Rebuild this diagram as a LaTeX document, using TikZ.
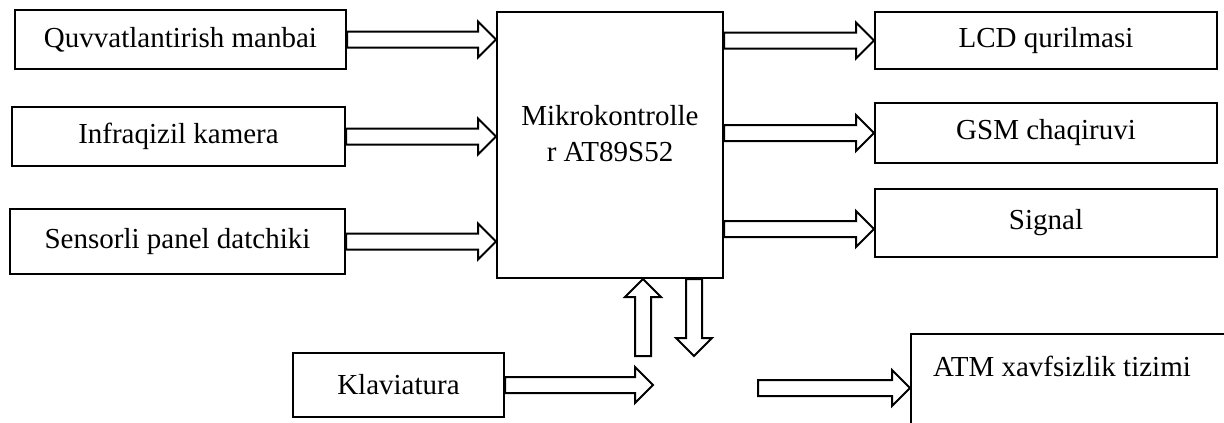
\documentclass[tikz,border=0pt]{standalone}
\usepackage{fontspec}
\setmainfont{Liberation Serif}
\usetikzlibrary{calc}

\begin{document}
\begin{tikzpicture}[
        x=1pt, y=-1pt,
        every node/.style={font=\fontsize{29}{36}\selectfont},
        block/.style={draw, line width=2pt, inner sep=0pt, align=center},
        blockArrow/.style={draw, line width=2pt, fill=white, line join=miter,
            to path={let \p1=(\tikztostart), \p2=(\tikztotarget),
                \n1={atan2(\y2-\y1,\x2-\x1)}, \n2={veclen(\x2-\x1,\y2-\y1)} in
                ([shift={(\p1)},rotate=\n1]0pt,8pt)
                -- ([shift={(\p1)},rotate=\n1]\n2-18pt,8pt)
                -- ([shift={(\p1)},rotate=\n1]\n2-18pt,18pt)
                -- ([shift={(\p1)},rotate=\n1]\n2,0pt)
                -- ([shift={(\p1)},rotate=\n1]\n2-18pt,-18pt)
                -- ([shift={(\p1)},rotate=\n1]\n2-18pt,-8pt)
                -- ([shift={(\p1)},rotate=\n1]0pt,-8pt) -- cycle}}
    ]
        \useasboundingbox (0,0) rectangle (1224,423);
        \clip (0,0) rectangle (1224,423);

        % Inputs on the left
        \node[block, minimum width=331, minimum height=59] (q) at (180.5,39.5) {Quvvatlantirish manbai};
        \node[block, minimum width=333, minimum height=59] (ik) at (178.5,136.5) {Infraqizil kamera};
        \node[block, minimum width=335, minimum height=65] (sp) at (177.5,241.5) {Sensorli panel datchiki};

        % Controller, its text sits a little above the middle
        \node[block, minimum width=226, minimum height=266] (mc) at (610,145) {};
        \node[align=center] (mcText) at (610,134) {Mikrokontrolle\\r AT89S52};

        % Outputs on the right
        \node[block, minimum width=342, minimum height=57] (lcd) at (1046,40.5) {LCD qurilmasi};
        \node[block, minimum width=342, minimum height=60] (gsm) at (1046,133) {GSM chaqiruvi};
        \node[block, minimum width=342, minimum height=68] (sig) at (1046,223) {Signal};

        % Bottom row, the ATM box runs off the page
        \node[block, minimum width=211, minimum height=64] (kl) at (398.5,385) {Klaviatura};
        \node[block, anchor=north west, minimum width=400, minimum height=200] (atm) at (910,333) {};
        \node (atmText) at (1062,366) {ATM xavfsizlik tizimi};

        \coordinate (kbUp) at (643,356);
        \coordinate (mcDown) at (694,356);
        \coordinate (kbOut) at (653,385);
        \coordinate (atmIn) at (758,388);

        % Hollow arrows
        \draw[blockArrow] (q.east) to (mc.west |- q.east);
        \draw[blockArrow] (ik.east) to (mc.west |- ik.east);
        \draw[blockArrow] (sp.east) to (mc.west |- sp.east);
        \draw[blockArrow] (mc.east |- lcd.west) to (lcd.west);
        \draw[blockArrow] (mc.east |- gsm.west) to (gsm.west);
        \draw[blockArrow] ($(mc.east |- sig.west)+(0,6)$) to ($(sig.west)+(0,6)$);
        \draw[blockArrow] (kbUp) to (kbUp |- mc.south);
        \draw[blockArrow] (mcDown |- mc.south) to (mcDown);
        \draw[blockArrow] (kl.east) to (kbOut);
        \draw[blockArrow] (atmIn) to (atmIn -| atm.west);

    \end{tikzpicture}
\end{document}
